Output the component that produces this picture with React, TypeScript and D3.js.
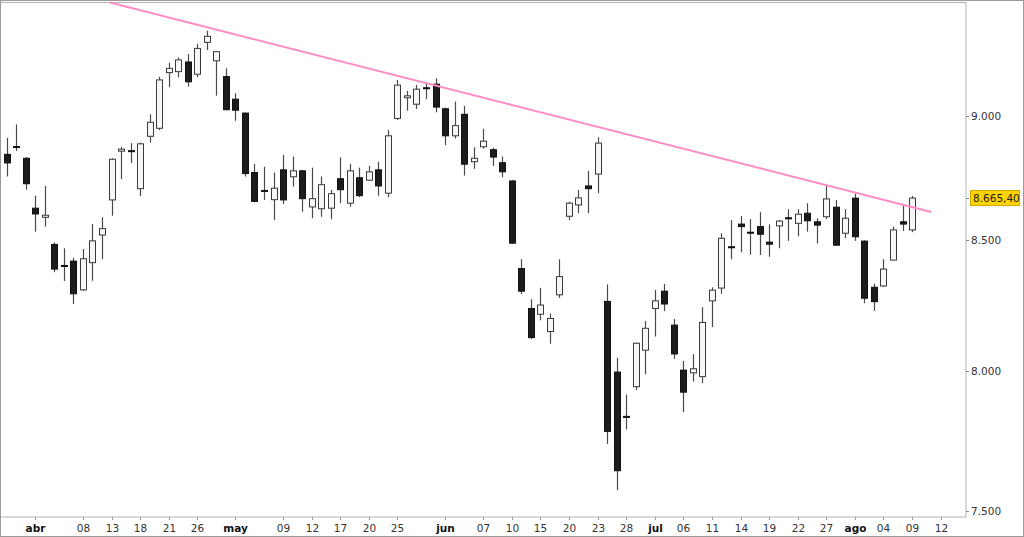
import React from 'react';
import * as d3 from 'd3';

// OHLC values, one entry per trading session
const opens = [
  8842, 8874, 8826, 8625, 8589, 8482, 8400, 8417, 8306, 8411,
  8519, 8658, 8855, 8857, 8703, 8916, 8949, 9182, 9186, 9227,
  9175, 9311, 9232, 9165, 9070, 9012, 8768, 8696, 8659, 8779,
  8751, 8775, 8630, 8623, 8625, 8743, 8645, 8747, 8737, 8779,
  8685, 8990, 9076, 9049, 9118, 9133, 9030, 8918, 9007, 8812,
  8873, 8861, 8808, 8734, 8388, 8235, 8213, 8148, 8287, 8593,
  8638, 8714, 8762, 8262, 7997, 7835, 7943, 8078, 8235, 8301,
  8172, 8004, 7994, 7980, 8264, 8313, 8473, 8562, 8530, 8552,
  8491, 8555, 8587, 8565, 8605, 8571, 8591, 8629, 8526, 8665,
  8495, 8316, 8321, 8421, 8571, 8539,
];
const highs = [
  8910, 8965, 8831, 8675, 8714, 8490, 8467, 8430, 8464, 8562,
  8589, 8826, 8872, 8888, 8890, 9007, 9164, 9223, 9247, 9261,
  9305, 9361, 9274, 9200, 9095, 9014, 8803, 8792, 8768, 8840,
  8833, 8779, 8788, 8752, 8698, 8830, 8803, 8788, 8795, 8812,
  8942, 9151, 9105, 9130, 9134, 9158, 9035, 9060, 9042, 8871,
  8947, 8869, 8833, 8738, 8424, 8270, 8314, 8216, 8424, 8651,
  8698, 8775, 8912, 8327, 8050, 7914, 8106, 8188, 8306, 8329,
  8195, 8038, 8063, 8240, 8316, 8526, 8578, 8594, 8582, 8609,
  8561, 8578, 8621, 8621, 8645, 8585, 8718, 8658, 8621, 8682,
  8498, 8329, 8424, 8552, 8638, 8674,
];
const lows = [
  8752, 8856, 8699, 8532, 8552, 8374, 8340, 8252, 8302, 8341,
  8424, 8595, 8742, 8807, 8673, 8890, 8942, 9120, 9162, 9123,
  9162, 9278, 9085, 9024, 8980, 8752, 8649, 8658, 8578, 8642,
  8711, 8611, 8585, 8591, 8581, 8645, 8631, 8669, 8735, 8675,
  8669, 8983, 9022, 9029, 9070, 9015, 8880, 8907, 8756, 8783,
  8865, 8795, 8749, 8484, 8290, 8120, 8190, 8102, 8275, 8577,
  8605, 8605, 8685, 7736, 7573, 7788, 7931, 7989, 8129, 8225,
  8046, 7850, 7962, 7956, 8165, 8291, 8424, 8451, 8442, 8441,
  8434, 8467, 8496, 8514, 8532, 8486, 8582, 8477, 8507, 8496,
  8255, 8226, 8318, 8419, 8535, 8530,
];
const closes = [
  8807, 8870, 8723, 8602, 8597, 8386, 8396, 8291, 8426, 8496,
  8544, 8822, 8863, 8853, 8885, 8974, 9151, 9200, 9236, 9143,
  9285, 9337, 9271, 9026, 9024, 8764, 8652, 8692, 8705, 8658,
  8775, 8663, 8663, 8719, 8683, 8699, 8775, 8675, 8771, 8714,
  8918, 9129, 9084, 9112, 9116, 9037, 8918, 8960, 8802, 8826,
  8896, 8831, 8771, 8487, 8301, 8125, 8248, 8197, 8357, 8645,
  8666, 8703, 8888, 7781, 7641, 7831, 8104, 8160, 8264, 8252,
  8064, 7923, 8009, 8182, 8305, 8506, 8469, 8552, 8526, 8522,
  8483, 8574, 8583, 8601, 8575, 8558, 8662, 8479, 8585, 8512,
  8274, 8261, 8386, 8539, 8562, 8665.4,
];

// x-axis tick labels placed at session index
const xTickIdx = [3, 8, 11, 14, 17, 20, 24, 29, 32, 35, 38, 41, 46, 50, 53, 56, 59, 62, 65, 68, 71, 74, 77, 80, 83, 86, 89, 92, 95, 98];
const xTickLabels = ['abr', '08', '13', '18', '21', '26', 'may', '09', '12', '17', '20', '25', 'jun', '07', '10', '15', '20', '23', '28', 'jul', '06', '11', '14', '19', '22', '27', 'ago', '04', '09', '12'];
const monthNames = ['abr', 'may', 'jun', 'jul', 'ago'];

const yTicks = [7500, 8000, 8500, 9000];
const lastPrice = 8665.4;

// trend line anchors (session index, price)
const trendIdx = [10.84, 97];
const trendVal = [9484, 8610];

const esLocale = d3.formatLocale({ decimal: ',', thousands: '.', grouping: [3], currency: ['', ' €'] });
const fmtInt = esLocale.format(',.0f');
const fmtPrice = esLocale.format(',.2f');

export default function App() {
  const W = 1024;
  const H = 537;
  const plotRight = 966;
  const plotBottom = 517;
  const x = d3.scaleLinear().domain([-0.7, 100.66]).range([0, plotRight]);
  const y = d3.scaleLog().domain([7479.5, 9486]).range([plotBottom, 2]);
  const font = '"DejaVu Sans", Verdana, sans-serif';

  const trendLine = d3
    .line<number>()
    .x((d, k) => x(trendIdx[k]))
    .y((d) => y(d));

  return (
    <svg
      width={W}
      height={H}
      style={{ position: 'absolute', left: 0, top: 0, display: 'block', background: '#fff' }}
      fontFamily={font}
    >
      <rect x={0} y={0} width={W} height={H} fill="#fff" />
      {/* plot frame */}
      <rect x={0.5} y={2.5} width={plotRight - 0.5} height={plotBottom - 2.5} fill="#fff" stroke="#b4b4b4" />

      {/* candles */}
      {opens.map((o, i) => {
        const c = closes[i];
        const cx = Math.round(x(i));
        const up = c >= o;
        const yTop = Math.min(y(o), y(c));
        const yBot = Math.max(y(o), y(c));
        const h = Math.max(yBot - yTop, 1);
        return (
          <g key={i}>
            <line x1={cx + 0.5} x2={cx + 0.5} y1={y(highs[i])} y2={y(lows[i])} stroke="#4a4a4a" strokeWidth={1.2} />
            <rect
              x={cx - 2.5}
              y={yTop}
              width={6}
              height={h}
              fill={up ? '#f7f7f7' : '#1c1c1c'}
              stroke={up ? '#3a3a3a' : '#111'}
              strokeWidth={1}
            />
          </g>
        );
      })}

      {/* trend line */}
      <path d={trendLine(trendVal) || ''} fill="none" stroke="#ff8cc6" strokeWidth={2} />

      {/* right axis */}
      {yTicks.map((v) => (
        <g key={v}>
          <line x1={plotRight} x2={plotRight + 3} y1={Math.round(y(v)) + 0.5} y2={Math.round(y(v)) + 0.5} stroke="#888" />
          <text x={plotRight + 5} y={y(v)} dy="0.36em" fontSize={10.5} fill="#333">
            {fmtInt(v)}
          </text>
        </g>
      ))}

      {/* last price marker */}
      <g>
        <line x1={plotRight} x2={plotRight + 3} y1={Math.round(y(lastPrice)) + 0.5} y2={Math.round(y(lastPrice)) + 0.5} stroke="#888" />
        <rect x={970.5} y={y(lastPrice) - 7.5} width={49} height={15} fill="#ffd400" stroke="#cca800" />
        <text x={973} y={y(lastPrice)} dy="0.36em" fontSize={10.5} fill="#222">
          {fmtPrice(lastPrice)}
        </text>
      </g>

      {/* bottom axis */}
      {xTickIdx.map((idx, k) => {
        const px = Math.round(x(idx)) + 0.5;
        const lbl = xTickLabels[k];
        const isMonth = monthNames.includes(lbl);
        return (
          <g key={k}>
            <line x1={px} x2={px} y1={plotBottom} y2={plotBottom + 3} stroke="#999" />
            <text
              x={px}
              y={532}
              textAnchor="middle"
              fontSize={10.5}
              fontWeight={isMonth ? 'bold' : 'normal'}
              fill={isMonth ? '#111' : '#333'}
            >
              {lbl}
            </text>
          </g>
        );
      })}

      {/* outer border */}
      <rect x={0.5} y={0.5} width={W - 1} height={H - 1} fill="none" stroke="#9a9a9a" />
    </svg>
  );
}
